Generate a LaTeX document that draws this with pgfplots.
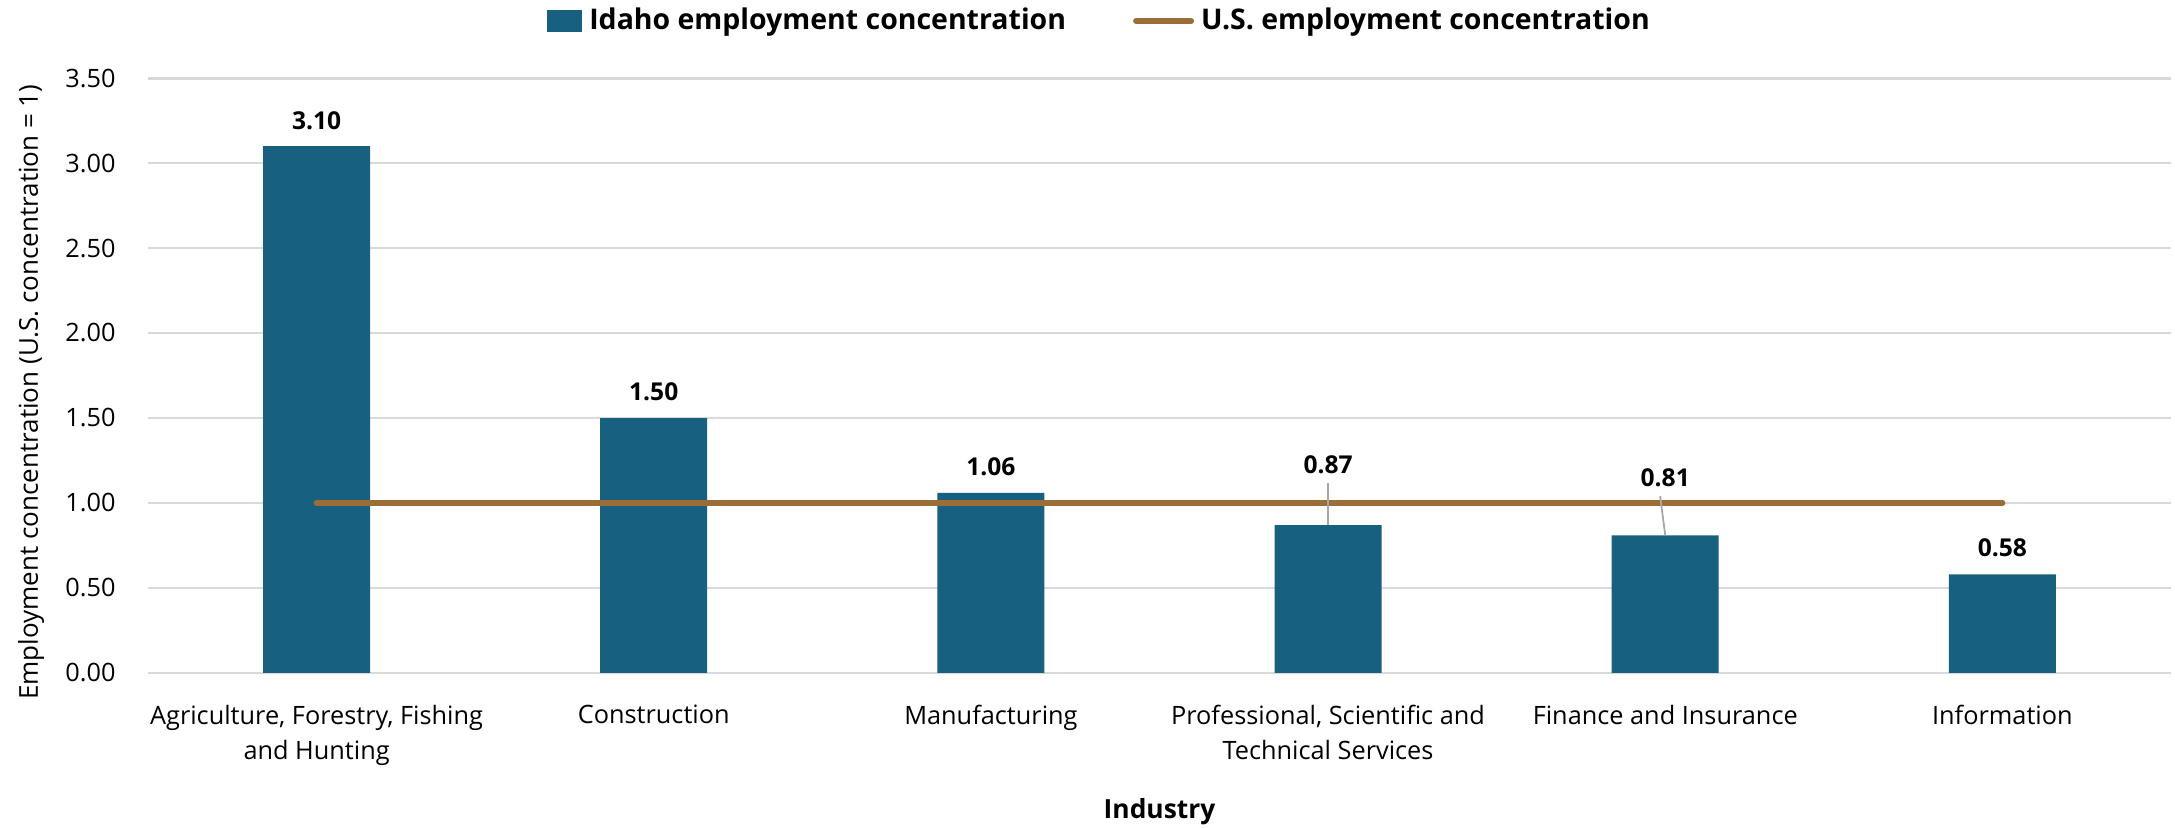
\documentclass[border=0pt]{standalone}
\usepackage{pgfplots}
\pgfplotsset{compat=1.18}
\usepackage{pgfplotstable}
\usepackage{fontspec}
\setmainfont{Open Sans}
\definecolor{barblue}{HTML}{17607F}
\definecolor{usbrown}{HTML}{9C6E37}
\definecolor{gridgray}{HTML}{D9D9D9}
\definecolor{leadgray}{HTML}{A6A6A6}

% Idaho location quotients
\pgfplotstableread{
x y
0 3.10
1 1.50
2 1.06
3 0.87
4 0.81
5 0.58
}\idaho

% where the data labels sit
\pgfplotstableread{
x y lab
0 3.247 3.10
1 1.655 1.50
2 1.215 1.06
3 1.225 0.87
4 1.150 0.81
5 0.735 0.58
}\labels

\begin{document}
\begin{tikzpicture}
\useasboundingbox (0,0) rectangle (21.75cm,8.28cm);
\begin{axis}[
    at={(1.48cm,1.55cm)}, anchor=south west,
    scale only axis, width=20.23cm, height=5.95cm,
    xmin=-0.5, xmax=5.5, ymin=0, ymax=3.5,
    xtick={0,...,5},
    xticklabels={{Agriculture, Forestry, Fishing\\and Hunting},Construction,Manufacturing,{Professional, Scientific and\\Technical Services},Finance and Insurance,Information},
    ytick={0,0.5,...,3.5},
    ymajorgrids, grid style={gridgray, line width=0.85pt},
    axis line style={draw=none},
    major tick length=0pt,
    /pgf/number format/.cd, fixed, fixed zerofill, precision=2, assume math mode=true,
    /pgfplots/.cd,
    yticklabel style={font=\fontsize{7.2}{8}\selectfont, xshift=-0.2cm},
    xticklabel style={font=\fontsize{7.2}{10}\selectfont, align=center, yshift=-0.2cm},
    xlabel={Industry},
    xlabel style={font=\bfseries\fontsize{7.5}{9}\selectfont, at={(axis description cs:0.5,-0.2336)}, anchor=center},
    ylabel={Employment concentration (U.S. concentration = 1)},
    ylabel style={font=\fontsize{7.4}{9}\selectfont, at={(axis description cs:-0.0578,0.472)}, anchor=center},
    legend style={at={(axis description cs:0.4716,1.096)}, anchor=center, draw=none,
        font=\bfseries\fontsize{8.1}{9.6}\selectfont, legend columns=2,
        /tikz/every even column/.append style={column sep=0.6cm}},
    legend cell align=left,
]
\addplot[ybar, bar width=1.07cm, fill=barblue, draw=none,
    legend image code/.code={\fill[barblue] (0cm,-0.11cm) rectangle (0.35cm,0.11cm);}]
    table[x=x, y=y] {\idaho};
\addlegendentry{Idaho employment concentration}
\addplot[usbrown, line width=1.7pt, line cap=round,
    legend image code/.code={\draw[usbrown, line width=1.7pt, line cap=round] (0cm,0cm) -- (0.55cm,0cm);}]
    coordinates {(0,1) (5,1)};
\addlegendentry{U.S. employment concentration}
\draw[leadgray, line width=0.5pt] (axis cs:3,0.87) -- (axis cs:3,1.12);
\draw[leadgray, line width=0.5pt] (axis cs:4,0.81) -- (axis cs:3.985,1.04);
\addplot[draw=none, mark=none, forget plot, point meta=explicit symbolic,
    nodes near coords, nodes near coords style={font=\bfseries\fontsize{7}{8}\selectfont, anchor=center, text=black}]
    table[x=x, y=y, meta=lab] {\labels};
\end{axis}
\end{tikzpicture}
\end{document}
